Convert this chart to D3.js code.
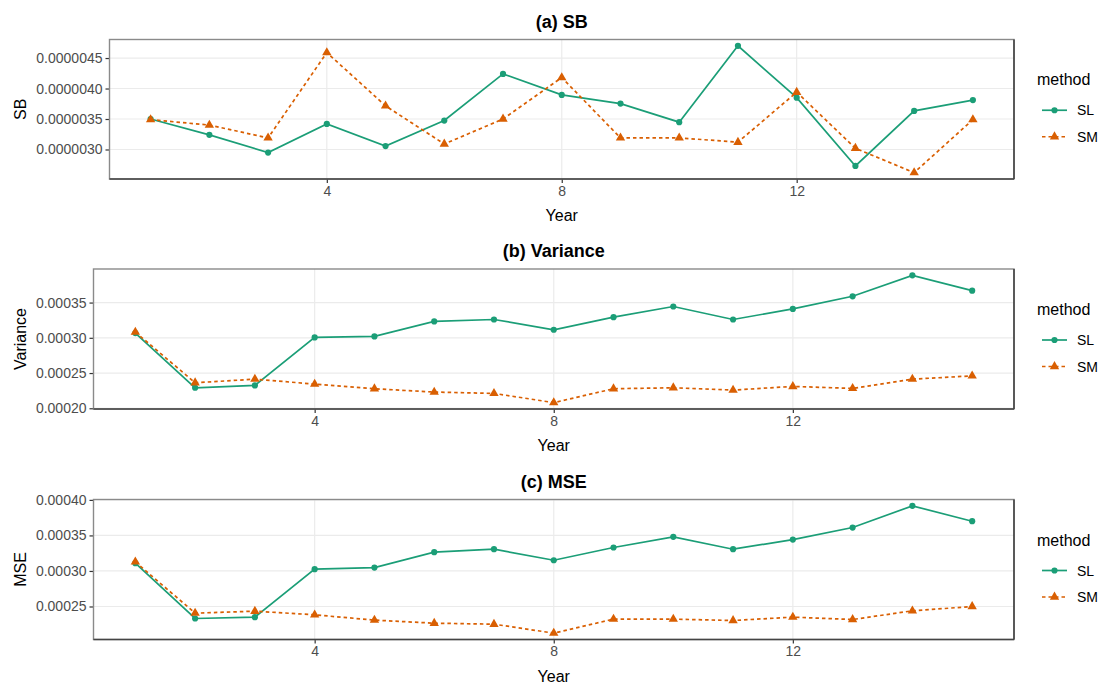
<!DOCTYPE html>
<html>
<head>
<meta charset="utf-8">
<script src="https://cdn.jsdelivr.net/npm/d3@7"></script>
<style>
  html, body { margin: 0; padding: 0; background: #fff; }
  svg text { font-family: "Liberation Sans", Arial, sans-serif; }
</style>
</head>
<body>
<svg id="chart" width="1105" height="683"></svg>
<script>
// Years on the x axis
const years = [1, 2, 3, 4, 5, 6, 7, 8, 9, 10, 11, 12, 13, 14, 15];
const xTicks = [4, 8, 12];
const methods = ["SL", "SM"];

// (a) SB
const sbSL = [3.50e-6, 3.24e-6, 2.95e-6, 3.42e-6, 3.056e-6, 3.475e-6, 4.24e-6, 3.895e-6,
              3.753e-6, 3.448e-6, 4.70e-6, 3.85e-6, 2.73e-6, 3.633e-6, 3.81e-6];
const sbSM = [3.49e-6, 3.40e-6, 3.19e-6, 4.59e-6, 3.715e-6, 3.09e-6, 3.50e-6, 4.18e-6,
              3.19e-6, 3.19e-6, 3.12e-6, 3.94e-6, 3.02e-6, 2.62e-6, 3.49e-6];
const sbTicks = [3.0e-6, 3.5e-6, 4.0e-6, 4.5e-6];

// (b) Variance
const varSL = [0.0003067, 0.0002291, 0.0002324, 0.0003006, 0.000302, 0.0003232, 0.000326, 0.0003114,
               0.0003293, 0.0003444, 0.000326, 0.000341, 0.0003589, 0.0003886, 0.0003669];
const varSM = [0.0003081, 0.0002362, 0.0002413, 0.0002343, 0.0002277, 0.000223, 0.0002211, 0.000208,
               0.0002277, 0.0002291, 0.0002258, 0.000231, 0.0002282, 0.0002413, 0.000246];
const varTicks = [0.00020, 0.00025, 0.00030, 0.00035];

// (c) MSE
const mseSL = [0.0003109, 0.0002331, 0.000235, 0.0003025, 0.0003048, 0.0003264, 0.0003306, 0.0003151,
               0.000333, 0.000348, 0.0003306, 0.0003442, 0.0003611, 0.0003916, 0.00037];
const mseSM = [0.0003128, 0.0002406, 0.0002434, 0.0002383, 0.0002308, 0.0002265, 0.0002251, 0.0002125,
               0.0002322, 0.0002322, 0.0002303, 0.000235, 0.0002317, 0.0002439, 0.00025];
const mseTicks = [0.00025, 0.00030, 0.00035, 0.00040];

const colors = { SL: "#1B9E77", SM: "#D95F02" };
const smDash = "3.5,3";

const panels = [
  { title: "(a) SB", ylab: "SB", sl: sbSL, sm: sbSM, ticks: sbTicks, fmt: d3.format(".7f"),
    left: 109.5, right: 1014, top: 39.5, bottom: 179 },
  { title: "(b) Variance", ylab: "Variance", sl: varSL, sm: varSM, ticks: varTicks, fmt: d3.format(".5f"),
    left: 93.5, right: 1014, top: 269, bottom: 409 },
  { title: "(c) MSE", ylab: "MSE", sl: mseSL, sm: mseSM, ticks: mseTicks, fmt: d3.format(".5f"),
    left: 93.5, right: 1014, top: 499.5, bottom: 639.5 }
];

const svg = d3.select("#chart");

// ggplot-style 5% expansion of a continuous range
function expand(lo, hi) {
  const pad = (hi - lo) * 0.05;
  return [lo - pad, hi + pad];
}

panels.forEach(p => {
  const g = svg.append("g");
  const x = d3.scaleLinear().domain(expand(d3.min(years), d3.max(years))).range([p.left, p.right]);
  const all = p.sl.concat(p.sm);
  const y = d3.scaleLinear().domain(expand(d3.min(all), d3.max(all))).range([p.bottom, p.top]);

  // grid
  g.append("g").selectAll("line.gy").data(p.ticks).join("line")
    .attr("x1", p.left).attr("x2", p.right)
    .attr("y1", d => y(d)).attr("y2", d => y(d))
    .attr("stroke", "#EBEBEB").attr("stroke-width", 1.2);
  g.append("g").selectAll("line.gx").data(xTicks).join("line")
    .attr("x1", d => x(d)).attr("x2", d => x(d))
    .attr("y1", p.top).attr("y2", p.bottom)
    .attr("stroke", "#EBEBEB").attr("stroke-width", 1.2);

  // axes
  const xAxis = d3.axisBottom(x).tickValues(xTicks).tickSize(4).tickPadding(3).tickFormat(d3.format("d"));
  const gx = g.append("g").attr("transform", `translate(0,${p.bottom})`).call(xAxis);
  const yAxis = d3.axisLeft(y).tickValues(p.ticks).tickSize(4).tickPadding(3).tickFormat(p.fmt);
  const gy = g.append("g").attr("transform", `translate(${p.left},0)`).call(yAxis);
  [gx, gy].forEach(a => {
    a.select(".domain").remove();
    a.selectAll(".tick line").attr("stroke", "#333").attr("stroke-width", 1.2);
    a.selectAll(".tick text").attr("fill", "#4D4D4D").style("font-size", "14px");
  });

  // panel border
  g.append("rect")
    .attr("x", p.left).attr("y", p.top)
    .attr("width", p.right - p.left).attr("height", p.bottom - p.top)
    .attr("fill", "none").attr("stroke", "#8a8a8a").attr("stroke-width", 1.4);
  g.append("line").attr("x1", p.left).attr("x2", p.right).attr("y1", p.bottom).attr("y2", p.bottom)
    .attr("stroke", "#444").attr("stroke-width", 1.6);
  g.append("line").attr("x1", p.right).attr("x2", p.right).attr("y1", p.top).attr("y2", p.bottom)
    .attr("stroke", "#444").attr("stroke-width", 1.6);

  // series
  const series = [
    { key: "SL", values: p.sl, dash: null },
    { key: "SM", values: p.sm, dash: smDash }
  ];
  const line = d3.line().x((d, i) => x(years[i])).y(d => y(d));
  series.forEach(s => {
    g.append("path").datum(s.values)
      .attr("d", line).attr("fill", "none")
      .attr("stroke", colors[s.key]).attr("stroke-width", 1.7)
      .attr("stroke-dasharray", s.dash);
  });
  series.forEach(s => {
    if (s.key === "SL") {
      g.append("g").selectAll("circle").data(s.values).join("circle")
        .attr("cx", (d, i) => x(years[i])).attr("cy", d => y(d)).attr("r", 3.1)
        .attr("fill", colors.SL);
    } else {
      const tri = d3.symbol().type(d3.symbolTriangle).size(38);
      g.append("g").selectAll("path").data(s.values).join("path")
        .attr("d", tri)
        .attr("transform", (d, i) => `translate(${x(years[i])},${y(d)})`)
        .attr("fill", colors.SM);
    }
  });

  // titles
  const cx = (p.left + p.right) / 2;
  g.append("text").attr("x", cx).attr("y", p.top - 12)
    .attr("text-anchor", "middle").style("font-size", "18px").style("font-weight", "bold")
    .attr("fill", "#000").text(p.title);
  g.append("text").attr("x", cx).attr("y", p.bottom + 42)
    .attr("text-anchor", "middle").style("font-size", "16px").attr("fill", "#000").text("Year");
  const cy = (p.top + p.bottom) / 2;
  g.append("text").attr("transform", `translate(26,${cy}) rotate(-90)`)
    .attr("text-anchor", "middle").style("font-size", "16px").attr("fill", "#000").text(p.ylab);

  // legend
  const lg = g.append("g").attr("transform", `translate(1037,${cy})`);
  lg.append("text").attr("x", 0).attr("y", -24).style("font-size", "16px").attr("fill", "#000").text("method");
  methods.forEach((m, i) => {
    const ky = 1 + i * 26.5;
    lg.append("line").attr("x1", 5).attr("x2", 30).attr("y1", ky).attr("y2", ky)
      .attr("stroke", colors[m]).attr("stroke-width", 1.7)
      .attr("stroke-dasharray", m === "SM" ? smDash : null);
    if (m === "SL") {
      lg.append("circle").attr("cx", 17.5).attr("cy", ky).attr("r", 3.1).attr("fill", colors.SL);
    } else {
      lg.append("path").attr("d", d3.symbol().type(d3.symbolTriangle).size(38))
        .attr("transform", `translate(17.5,${ky})`).attr("fill", colors.SM);
    }
    lg.append("text").attr("x", 40).attr("y", ky + 5).style("font-size", "14px").attr("fill", "#000").text(m);
  });
});
</script>
</body>
</html>
